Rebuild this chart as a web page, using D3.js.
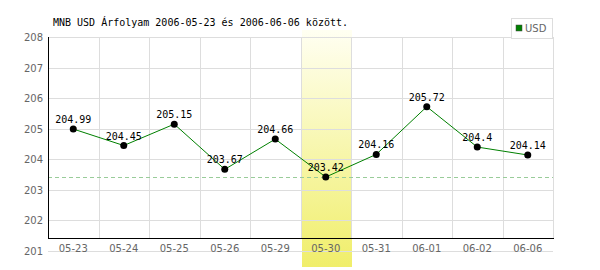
<!DOCTYPE html>
<html>
<head>
<meta charset="utf-8">
<script src="https://cdn.jsdelivr.net/npm/d3@7"></script>
<style>
  body { margin: 0; background: #fff; }
  svg { display: block; }
  .tick-label { font-family: "DejaVu Sans", sans-serif; font-size: 10px; fill: #666; }
  .mono { font-family: "DejaVu Sans Mono", monospace; font-size: 10px; fill: #000; }
</style>
</head>
<body>
<div id="chart"></div>
<script>
// data
var categories = ['05-23', '05-24', '05-25', '05-26', '05-29', '05-30', '05-31', '06-01', '06-02', '06-06'];
var usdValues = [204.99, 204.45, 205.15, 203.67, 204.66, 203.42, 204.16, 205.72, 204.4, 204.14];
var yTicks = [201, 202, 203, 204, 205, 206, 207, 208];
var highlightCategory = '05-30';
var titleText = 'MNB USD Árfolyam 2006-05-23 és 2006-06-06 között.';
var seriesName = 'USD';

var width = 600, height = 270;
var plot = { left: 48, right: 553, top: 37, bottom: 251, axisY: 238 };

var svg = d3.select('#chart').append('svg')
    .attr('width', width)
    .attr('height', height);

var x = d3.scaleBand().domain(categories).range([plot.left, plot.right]);
var y = d3.scaleLinear().domain([201, 208]).range([plot.bottom, plot.top]);

// highlight band
var grad = svg.append('defs').append('linearGradient')
    .attr('id', 'hl').attr('x1', 0).attr('y1', 0).attr('x2', 0).attr('y2', 1);
grad.append('stop').attr('offset', '0%').attr('stop-color', '#fffff2');
grad.append('stop').attr('offset', '100%').attr('stop-color', '#f0ee6a');

svg.append('rect')
    .attr('x', Math.round(x(highlightCategory)) + 1)
    .attr('y', 30)
    .attr('width', Math.round(x.bandwidth()) - 1)
    .attr('height', 267 - 30)
    .attr('fill', 'url(#hl)');

// horizontal grid
svg.append('g').selectAll('line').data(yTicks).enter()
    .append('line')
    .attr('x1', plot.left).attr('x2', plot.right)
    .attr('y1', function (d) { return Math.round(y(d)) + 0.5; })
    .attr('y2', function (d) { return Math.round(y(d)) + 0.5; })
    .attr('stroke', '#dddddd');

// vertical grid
var gridX = categories.slice(1).map(function (c) { return x(c); }).concat([plot.right]);
svg.append('g').selectAll('line').data(gridX).enter()
    .append('line')
    .attr('x1', function (d) { return Math.round(d) + 0.5; })
    .attr('x2', function (d) { return Math.round(d) + 0.5; })
    .attr('y1', plot.top).attr('y2', plot.axisY)
    .attr('stroke', '#dddddd');

// min dashed line
var minVal = d3.min(usdValues);
svg.append('line')
    .attr('x1', plot.left).attr('x2', plot.right)
    .attr('y1', Math.round(y(minVal)) + 0.5)
    .attr('y2', Math.round(y(minVal)) + 0.5)
    .attr('stroke', '#99cc99')
    .attr('stroke-dasharray', '4,3');

// axes
svg.append('line')
    .attr('x1', plot.left + 0.5).attr('x2', plot.left + 0.5)
    .attr('y1', plot.top).attr('y2', plot.axisY + 1)
    .attr('stroke', '#000');
svg.append('line')
    .attr('x1', plot.left).attr('x2', plot.right + 1)
    .attr('y1', plot.axisY + 0.5).attr('y2', plot.axisY + 0.5)
    .attr('stroke', '#000');

// y tick labels
svg.append('g').selectAll('text').data(yTicks).enter()
    .append('text')
    .attr('class', 'tick-label')
    .attr('x', 43)
    .attr('y', function (d) { return y(d) + 4; })
    .attr('text-anchor', 'end')
    .text(function (d) { return d; });

// x tick labels
svg.append('g').selectAll('text').data(categories).enter()
    .append('text')
    .attr('class', 'tick-label')
    .attr('x', function (d) { return x(d) + x.bandwidth() / 2; })
    .attr('y', 252)
    .attr('text-anchor', 'middle')
    .text(function (d) { return d; });

// line
var points = categories.map(function (c, i) { return { cat: c, value: usdValues[i] }; });
var line = d3.line()
    .x(function (d) { return x(d.cat) + x.bandwidth() / 2; })
    .y(function (d) { return y(d.value); });

svg.append('path')
    .datum(points)
    .attr('d', line)
    .attr('fill', 'none')
    .attr('stroke', '#008000')
    .attr('stroke-width', 1);

svg.append('g').selectAll('circle').data(points).enter()
    .append('circle')
    .attr('cx', function (d) { return x(d.cat) + x.bandwidth() / 2; })
    .attr('cy', function (d) { return y(d.value); })
    .attr('r', 3.5)
    .attr('fill', '#000');

svg.append('g').selectAll('text').data(points).enter()
    .append('text')
    .attr('class', 'mono')
    .attr('x', function (d) { return x(d.cat) + x.bandwidth() / 2; })
    .attr('y', function (d) { return y(d.value) - 6; })
    .attr('text-anchor', 'middle')
    .text(function (d) { return d.value; });

// title
svg.append('text')
    .attr('class', 'mono')
    .attr('x', 53)
    .attr('y', 26)
    .text(titleText);

// legend
svg.append('rect')
    .attr('x', 511.5).attr('y', 18.5)
    .attr('width', 41).attr('height', 20)
    .attr('fill', '#fff')
    .attr('stroke', '#dddddd');
svg.append('rect')
    .attr('x', 516).attr('y', 25)
    .attr('width', 6).attr('height', 6)
    .attr('fill', '#008000')
    .attr('stroke', '#444')
    .attr('stroke-width', 0.5);
svg.append('text')
    .attr('class', 'tick-label')
    .attr('x', 525)
    .attr('y', 32)
    .text(seriesName);
</script>
</body>
</html>
